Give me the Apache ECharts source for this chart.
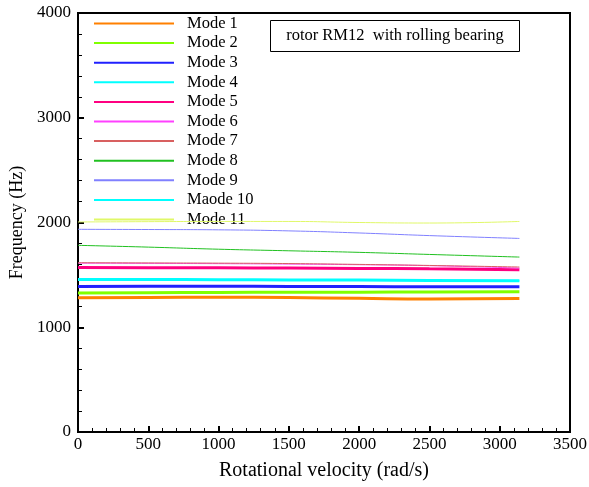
<!DOCTYPE html>
<html><head><meta charset="utf-8">
<script src="https://cdn.jsdelivr.net/npm/echarts@6/dist/echarts.min.js"></script>
<style>html,body{margin:0;padding:0;background:#fff}#c{width:589px;height:487px}</style>
</head><body><div id="c"></div>
<script>
var velocity = [0, 500, 1000, 1500, 2000, 2500, 3140];
var mode1  = [1282, 1285, 1287, 1283, 1276, 1270, 1275];
var mode2  = [1328, 1330, 1332, 1334, 1335, 1336, 1338];
var mode3  = [1390, 1392, 1392, 1390, 1388, 1386, 1386];
var mode4  = [1455, 1455, 1454, 1452, 1450, 1447, 1443];
var mode5  = [1570, 1568, 1567, 1565, 1562, 1558, 1550];
var mode6  = [1612, 1610, 1607, 1603, 1597, 1588, 1565];
var mode7  = [1616, 1614, 1612, 1608, 1600, 1590, 1575];
var mode8  = [1782, 1765, 1745, 1730, 1715, 1695, 1670];
var mode9  = [1935, 1933, 1930, 1920, 1900, 1875, 1848];
var mode10 = [1455, 1455, 1454, 1452, 1450, 1447, 1443];
var mode11 = [2005, 2008, 2010, 2010, 2000, 1995, 2010];
var names  = ['Mode 1','Mode 2','Mode 3','Mode 4','Mode 5','Mode 6','Mode 7','Mode 8','Mode 9','Maode 10','Mode 11'];
var yTicks = [0, 1000, 2000, 3000, 4000];
var xTicks = [0, 500, 1000, 1500, 2000, 2500, 3000, 3500];

var all = [mode1, mode2, mode3, mode4, mode5, mode6, mode7, mode8, mode9, mode10, mode11];
var colors = ['#ff8000','#80ff00','#2020ff','#00ffff','#ff0080','#ff40ff','#d86060','#20c020','#8080ff','#00ffff','#e0f868'];
var widths = [3,3,3,3,3,1,1,1,1,1,1];
var font = 'Liberation Serif';

var series = all.map(function (arr, i) {
  return {
    name: names[i], type: 'line', symbol: 'none', smooth: true,
    data: arr.map(function (v, j) { return [velocity[j], v]; }),
    lineStyle: { color: colors[i], width: widths[i] },
    itemStyle: { color: colors[i] },
    z: 2 + (i === 9 ? -1 : i)
  };
});

var chart = echarts.init(document.getElementById('c'));
chart.setOption({
  animation: false,
  grid: { left: 78, right: 19, top: 13, bottom: 55, show: true, borderColor: '#000', borderWidth: 2, containLabel: false, outerBoundsMode: 'none' },
  legend: {
    orient: 'vertical', left: 88, top: 10, itemWidth: 80, itemHeight: 14, itemGap: 2.6,
    data: names,
    itemStyle: { opacity: 0 },
    textStyle: { fontFamily: font, fontSize: 16.5, color: '#000', padding: [0, 0, 0, 8] }
  },
  xAxis: {
    type: 'value', min: 0, max: 3500, interval: 500,
    name: 'Rotational velocity (rad/s)', nameLocation: 'middle', nameGap: 29,
    nameTextStyle: { fontFamily: font, fontSize: 20, color: '#000' },
    axisLine: { lineStyle: { color: '#000', width: 2 } },
    axisTick: { inside: true, length: 6, lineStyle: { color: '#000', width: 2 } },
    minorTick: { show: true, splitNumber: 5, length: 4, lineStyle: { color: '#000', width: 1 } },
    axisLabel: { fontFamily: font, fontSize: 17, color: '#000', margin: 4,
      formatter: function (v) { return xTicks.indexOf(v) >= 0 ? String(v) : ''; } },
    splitLine: { show: false }
  },
  yAxis: {
    type: 'value', min: 0, max: 4000, interval: 1000,
    name: 'Frequency (Hz)', nameLocation: 'middle', nameGap: 48,
    nameTextStyle: { fontFamily: font, fontSize: 18, color: '#000' },
    axisLine: { show: true, lineStyle: { color: '#000', width: 2 } },
    axisTick: { show: true, inside: true, length: 6, lineStyle: { color: '#000', width: 2 } },
    minorTick: { show: true, splitNumber: 5, length: 4, lineStyle: { color: '#000', width: 1 } },
    axisLabel: { fontFamily: font, fontSize: 17, color: '#000', margin: 7,
      formatter: function (v) { return yTicks.indexOf(v) >= 0 ? String(v) : ''; } },
    splitLine: { show: false }
  },
  graphic: [{
    type: 'group', left: 270, top: 20,
    children: [
      { type: 'rect', shape: { x: 0, y: 0, width: 249, height: 31 }, style: { fill: '#fff', stroke: '#000', lineWidth: 1 } },
      { type: 'text', x: 124.5, y: 15.5, style: { text: 'rotor RM12  with rolling bearing', fontFamily: font, fontSize: 16.5, fill: '#000', align: 'center', verticalAlign: 'middle' } }
    ]
  }],
  series: series
});
</script></body></html>
